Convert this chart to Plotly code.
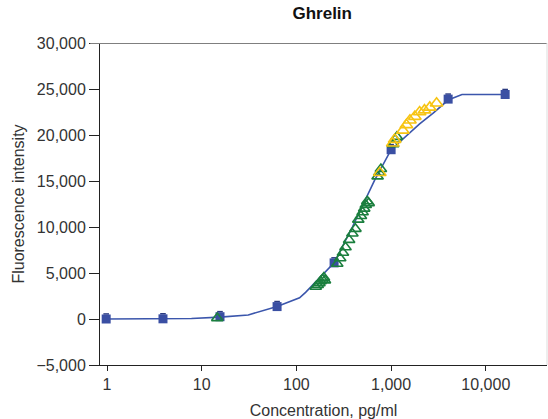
import plotly.graph_objects as go

# Standards (blue squares)
std_conc = [0.98, 3.9, 15.6, 62.5, 250, 1000, 4000, 16000]
std_val = [0, 20, 250, 1350, 6100, 18400, 23900, 24400]
std_err = [550, 550, 550, 550, 550, 550, 550, 550]

# Fitted curve (blue line)
fit_conc = [0.98, 2, 3.9, 7.8, 15.6, 31, 62.5, 108, 125, 250, 390, 500, 670, 1000, 1580, 2000, 2800, 4000, 5600, 7800, 10700, 16000]
fit_val = [0, 10, 30, 60, 200, 440, 1350, 2300, 2900, 6100, 10000, 12300, 15100, 18400, 20300, 21200, 22400, 23800, 24400, 24400, 24400, 24400]

# Samples (green open triangles)
grn_conc = [14.6, 160, 168, 175, 180, 188, 195, 200, 270, 290, 310, 330, 360, 390, 420,
            450, 480, 500, 520, 540, 560, 580, 720, 750, 780, 1050, 1100, 1150]
grn_val = [100, 3500, 3700, 3900, 4100, 4300, 4500, 4200, 6000, 6600, 7200, 7800, 8600, 9300, 9800,
           10800, 11200, 11600, 12000, 12400, 12800, 12600, 15500, 15900, 16300, 19000, 19500, 19800]

# Samples (yellow open triangles)
yel_conc = [760, 1040, 1090, 1330, 1450, 1580, 1780, 2000, 2250, 2560, 3020]
yel_val = [15900, 19100, 19500, 20500, 21100, 21600, 22000, 22500, 22700, 23000, 23450]

y_ticks = [-5000, 0, 5000, 10000, 15000, 20000, 25000, 30000]
y_text = ["\u22125,000", "0", "5,000", "10,000", "15,000", "20,000", "25,000", "30,000"]
x_ticks = [1, 10, 100, 1000, 10000]
x_text = ["1", "10", "100", "1,000", "10,000"]

blue = "#3A4FA3"
fig = go.Figure()
fig.add_trace(go.Scatter(x=fit_conc, y=fit_val, mode="lines",
                         line=dict(color="#3B56AC", width=1.6), hoverinfo="skip"))
# error caps (upper) for standards
cap_y = [v + e for v, e in zip(std_val, std_err)]
fig.add_trace(go.Scatter(x=std_conc, y=cap_y, mode="markers",
                         marker=dict(symbol="line-ew-open", size=4, color="#2A3A80",
                                     line=dict(width=1.5, color="#2A3A80"))))
fig.add_trace(go.Scatter(x=std_conc, y=std_val, mode="markers",
                         marker=dict(symbol="square", size=9, color=blue)))
fig.add_trace(go.Scatter(x=grn_conc, y=grn_val, mode="markers",
                         marker=dict(symbol="triangle-up-open", size=10, color="#1B7F3E",
                                     line=dict(width=1.6, color="#1B7F3E"))))
fig.add_trace(go.Scatter(x=yel_conc, y=yel_val, mode="markers",
                         marker=dict(symbol="triangle-up-open", size=11, color="#F7C412",
                                     line=dict(width=1.6, color="#F7C412"))))

fig.add_shape(type="line", xref="paper", yref="y", x0=-0.022, x1=1, y0=30000, y1=30000,
              line=dict(color="#7F7F7F", width=2))
fig.add_shape(type="line", xref="paper", yref="paper", x0=1, x1=1, y0=0, y1=1,
              line=dict(color="#DDDDDD", width=1))

fig.update_layout(
    width=548, height=419,
    margin=dict(l=100, r=1, t=43, b=54),
    paper_bgcolor="white", plot_bgcolor="white",
    showlegend=False,
    font=dict(family="Liberation Sans, Arial, sans-serif", color="#333333", size=16),
    title=dict(text="<b>Ghrelin</b>", x=0.588, xanchor="center", y=0.982, yanchor="top",
               font=dict(size=17, color="#111111")),
)
fig.update_xaxes(type="log", range=[-0.074, 4.646], tickvals=x_ticks, ticktext=x_text,
                 showgrid=False, zeroline=False, showline=True, linecolor="#222222", linewidth=1,
                 ticks="outside", ticklen=5, tickcolor="#222222", automargin=False,
                 title=dict(text="Concentration, pg/ml", font=dict(size=16, color="#333333"), standoff=12),
                 tickfont=dict(size=16, color="#333333"))
fig.update_yaxes(range=[-5000, 30000], tickvals=y_ticks, ticktext=y_text,
                 showgrid=False, zeroline=False, showline=True, linecolor="#222222", linewidth=1,
                 ticks="outside", ticklen=10, tickcolor="#222222", automargin=False,
                 title=dict(text="Fluorescence intensity", font=dict(size=16, color="#333333"), standoff=7),
                 tickfont=dict(size=16, color="#333333"))

fig.write_html("out.html", config={"displayModeBar": False},
               post_script="document.body.style.margin='0';")
